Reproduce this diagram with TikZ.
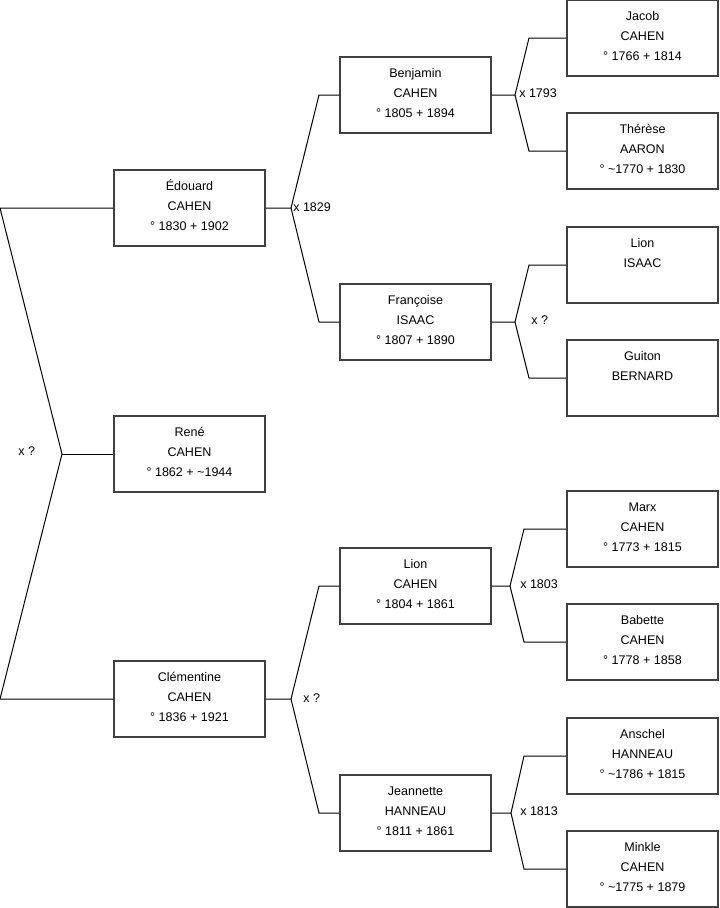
\documentclass[tikz,border=0pt]{standalone}
\usepackage{fontspec}
\setmainfont{Liberation Sans}
\usetikzlibrary{calc}

\tikzset{
    person/.style={draw=black!75, line width=0.9pt, fill=white,
        minimum width=113.25pt, minimum height=57pt, inner sep=0pt,
        text height=38pt, text depth=4.2pt,
        align=center, font=\fontsize{9.4}{15}\selectfont},
    link/.style={line width=0.75pt},
    mariage/.style={anchor=west, inner sep=0pt, font=\fontsize{9.4}{15}\selectfont}
}

\begin{document}
\begin{tikzpicture}[x=0.75pt,y=-0.75pt]
\useasboundingbox (0,0) rectangle (719,908);

\node[person] (rene) at (189.5,454) {René\\CAHEN\\° 1862 + \textasciitilde1944};

\node[person] (edouard) at (189.5,208) {Édouard\\CAHEN\\° 1830 + 1902};
\node[person] (clementine) at (189.5,699) {Clémentine\\CAHEN\\° 1836 + 1921};

\node[person] (benjamin) at (415.5,95) {Benjamin\\CAHEN\\° 1805 + 1894};
\node[person] (francoise) at (415.5,322) {Françoise\\ISAAC\\° 1807 + 1890};
\node[person] (lionc) at (415.5,586) {Lion\\CAHEN\\° 1804 + 1861};
\node[person] (jeannette) at (415.5,813) {Jeannette\\HANNEAU\\° 1811 + 1861};

\node[person] (jacob) at (642.5,38) {Jacob\\CAHEN\\° 1766 + 1814};
\node[person] (therese) at (642.5,151) {Thérèse\\AARON\\° \textasciitilde1770 + 1830};
\node[person] (lioni) at (642.5,265) {Lion\\ISAAC\\\strut};
\node[person] (guiton) at (642.5,378) {Guiton\\BERNARD\\\strut};
\node[person] (marx) at (642.5,529) {Marx\\CAHEN\\° 1773 + 1815};
\node[person] (babette) at (642.5,642) {Babette\\CAHEN\\° 1778 + 1858};
\node[person] (anschel) at (642.5,756) {Anschel\\HANNEAU\\° \textasciitilde1786 + 1815};
\node[person] (minkle) at (642.5,869) {Minkle\\CAHEN\\° \textasciitilde1775 + 1879};
%%
\coordinate (c0a) at (0,208);
\coordinate (c0b) at (0,699);
\coordinate (j0) at (62,454);
\draw[link] (edouard.west) -- (c0a) -- (j0) -- (c0b) -- (clementine.west);
\draw[link] (j0) -- (rene.west);
\node[mariage] (m0) at (18,451) {x ?};
%%
\coordinate (j1) at (291,208);
\coordinate (j1a) at (319,95);
\coordinate (j1b) at (319,322);
\draw[link] (edouard.east) -- (j1) -- (j1a) -- (benjamin.west);
\draw[link] (j1) -- (j1b) -- (francoise.west);
\node[mariage] (m1) at (293,207) {x 1829};
%
\coordinate (j2) at (291,699);
\coordinate (j2a) at (319,586);
\coordinate (j2b) at (319,813);
\draw[link] (clementine.east) -- (j2) -- (j2a) -- (lionc.west);
\draw[link] (j2) -- (j2b) -- (jeannette.west);
\node[mariage] (m2) at (303,698) {x ?};
%%
\coordinate (j3) at (515,95);
\coordinate (j3a) at (529,38);
\coordinate (j3b) at (529,151);
\draw[link] (benjamin.east) -- (j3) -- (j3a) -- (jacob.west);
\draw[link] (j3) -- (j3b) -- (therese.west);
\node[mariage] (m3) at (519,93) {x 1793};
%
\coordinate (j4) at (515,322);
\coordinate (j4a) at (529,265);
\coordinate (j4b) at (529,378);
\draw[link] (francoise.east) -- (j4) -- (j4a) -- (lioni.west);
\draw[link] (j4) -- (j4b) -- (guiton.west);
\node[mariage] (m4) at (531,320) {x ?};
%
\coordinate (j5) at (510,586);
\coordinate (j5a) at (524,529);
\coordinate (j5b) at (524,642);
\draw[link] (lionc.east) -- (j5) -- (j5a) -- (marx.west);
\draw[link] (j5) -- (j5b) -- (babette.west);
\node[mariage] (m5) at (520,584) {x 1803};
%
\coordinate (j6) at (511,813);
\coordinate (j6a) at (524,756);
\coordinate (j6b) at (524,869);
\draw[link] (jeannette.east) -- (j6) -- (j6a) -- (anschel.west);
\draw[link] (j6) -- (j6b) -- (minkle.west);
\node[mariage] (m6) at (520,811) {x 1813};
\end{tikzpicture}
\end{document}
